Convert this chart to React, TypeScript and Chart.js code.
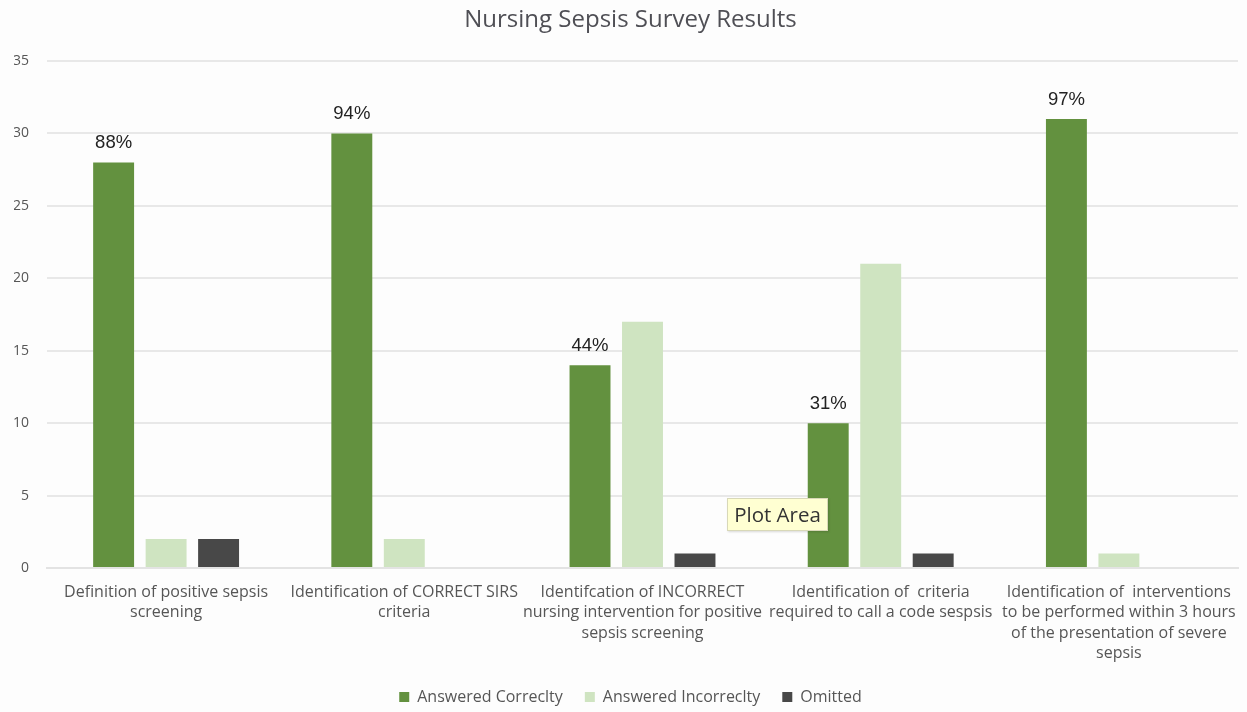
import React, { useEffect, useRef } from "react";
import { Chart, registerables } from "chart.js";

Chart.register(...registerables);

const chartTitle = "Nursing Sepsis Survey Results";

// Survey questions (x-axis categories, pre-wrapped into lines)
const categories: string[][] = [
  ["Definition of positive sepsis", "screening"],
  ["Identification of CORRECT SIRS", "criteria"],
  ["Identifcation of INCORRECT", "nursing intervention for positive", "sepsis screening"],
  ["Identification of  criteria", "required to call a code sespsis"],
  [
    "Identification of  interventions",
    "to be performed within 3 hours",
    "of the presentation of severe",
    "sepsis",
  ],
];

// Number of nurses per answer type
const answeredCorrectly = [28, 30, 14, 10, 31];
const answeredIncorrectly = [2, 2, 17, 21, 1];
const omitted = [2, 0, 1, 1, 0];

const seriesNames = ["Answered Correclty", "Answered Incorreclty", "Omitted"];
const seriesColors = ["#63913f", "#cfe4c1", "#484848"];

const yMin = 0;
const yMax = 35;
const yStep = 5;

const UI_FONT = "'Open Sans', Lato, sans-serif";
const TEXT_COLOR = "#565656";

// Writes the share of correct answers above each green bar
const percentLabels = {
  id: "percentLabels",
  afterDatasetsDraw(chart: any) {
    const { ctx } = chart;
    const meta = chart.getDatasetMeta(0);
    ctx.save();
    ctx.font = "18.5px 'Liberation Sans', Arial, sans-serif";
    ctx.fillStyle = "#222222";
    ctx.textAlign = "center";
    ctx.textBaseline = "alphabetic";
    meta.data.forEach((bar: any, i: number) => {
      const total = answeredCorrectly[i] + answeredIncorrectly[i] + omitted[i];
      const pct = Math.round((answeredCorrectly[i] / total) * 100);
      ctx.fillText(`${pct}%`, bar.x, bar.y - 14);
    });
    ctx.restore();
  },
};

// Chart heading, centred on the whole canvas
const headingPlugin = {
  id: "heading",
  afterDraw(chart: any) {
    const { ctx } = chart;
    ctx.save();
    ctx.font = `24px ${UI_FONT}`;
    ctx.fillStyle = "#4f4f55";
    ctx.textAlign = "center";
    ctx.textBaseline = "alphabetic";
    ctx.fillText(chartTitle, chart.width / 2 + 7, 27);
    ctx.restore();
  },
};

export default function App() {
  const canvasRef = useRef<HTMLCanvasElement | null>(null);

  useEffect(() => {
    document.body.style.margin = "0";
    const canvas = canvasRef.current;
    if (!canvas) return;

    const values = [answeredCorrectly, answeredIncorrectly, omitted];

    const chart = new Chart(canvas, {
      type: "bar",
      data: {
        labels: categories,
        datasets: seriesNames.map((name, i) => ({
          label: name,
          data: values[i],
          backgroundColor: seriesColors[i],
          borderWidth: 0,
          categoryPercentage: 0.661,
          barPercentage: 0.78,
          yAxisID: "y",
        })),
      },
      options: {
        responsive: false,
        animation: false,
        maintainAspectRatio: false,
        layout: { padding: { left: 14, right: 0, top: 61, bottom: -3 } },
        plugins: {
          title: { display: false },
          legend: {
            position: "bottom",
            labels: {
              color: TEXT_COLOR,
              font: { family: UI_FONT, size: 16 },
              boxWidth: 10,
              boxHeight: 10,
              padding: 22,
            },
          },
          tooltip: { enabled: false },
        },
        scales: {
          x: {
            grid: { display: false },
            border: { display: true, color: "#e3e3e3", width: 2 },
            ticks: {
              color: TEXT_COLOR,
              font: { family: UI_FONT, size: 16, lineHeight: 1.28 },
              padding: 6,
              autoSkip: false,
              maxRotation: 0,
              minRotation: 0,
            },
            afterFit: (scale: any) => {
              scale.height = 99;
            },
          },
          y: {
            min: yMin,
            max: yMax,
            grid: { color: "#e8e8e8", lineWidth: 2, drawTicks: false },
            border: { display: false },
            ticks: {
              stepSize: yStep,
              color: TEXT_COLOR,
              font: { family: UI_FONT, size: 14 },
              padding: 18,
            },
            afterFit: (scale: any) => {
              scale.width = 33;
            },
          },
          // empty margin on the right of the plot
          yRight: {
            type: "linear",
            position: "right",
            display: true,
            grid: { display: false, drawTicks: false },
            border: { display: false },
            ticks: { display: false },
            afterFit: (scale: any) => {
              scale.width = 9;
            },
          },
        },
      },
      plugins: [percentLabels, headingPlugin],
    });

    return () => chart.destroy();
  }, []);

  return (
    <div style={{ position: "relative", width: 1247, height: 712, background: "#fdfdfd" }}>
      <canvas ref={canvasRef} width={1247} height={712} />
      <div
        style={{
          position: "absolute",
          left: 727,
          top: 498,
          width: 99,
          height: 31,
          background: "#ffffd2",
          border: "1px solid #d8d8b8",
          fontFamily: UI_FONT,
          fontSize: 20.5,
          color: "#333",
          lineHeight: "31px",
          textAlign: "center",
          whiteSpace: "nowrap",
          boxShadow: "1px 1px 2px rgba(0,0,0,0.15)",
        }}
      >
        Plot Area
      </div>
    </div>
  );
}
